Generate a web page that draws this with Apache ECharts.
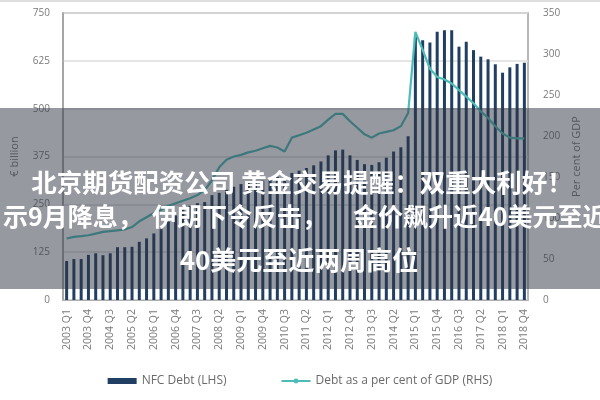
<!DOCTYPE html>
<html>
<head>
<meta charset="utf-8">
<script src="https://cdn.jsdelivr.net/npm/echarts@6/dist/echarts.min.js"></script>
<style>
html,body{margin:0;padding:0;background:#fff;}
#c{width:600px;height:400px;}
</style>
</head>
<body>
<div id="c"></div>
<script>
const categories = [
 '2003 Q1','2003 Q2','2003 Q3','2003 Q4','2004 Q1','2004 Q2','2004 Q3','2004 Q4',
 '2005 Q1','2005 Q2','2005 Q3','2005 Q4','2006 Q1','2006 Q2','2006 Q3','2006 Q4',
 '2007 Q1','2007 Q2','2007 Q3','2007 Q4','2008 Q1','2008 Q2','2008 Q3','2008 Q4',
 '2009 Q1','2009 Q2','2009 Q3','2009 Q4','2010 Q1','2010 Q2','2010 Q3','2010 Q4',
 '2011 Q1','2011 Q2','2011 Q3','2011 Q4','2012 Q1','2012 Q2','2012 Q3','2012 Q4',
 '2013 Q1','2013 Q2','2013 Q3','2013 Q4','2014 Q1','2014 Q2','2014 Q3','2014 Q4',
 '2015 Q1','2015 Q2','2015 Q3','2015 Q4','2016 Q1','2016 Q2','2016 Q3','2016 Q4',
 '2017 Q1','2017 Q2','2017 Q3','2017 Q4','2018 Q1','2018 Q2','2018 Q3','2018 Q4'
];
const nfcDebt = [
 102,107,107,118,122,117,122,138,138,139,152,161,174,185,205,221,240,246,253,256,
 274,280,288,296,303,310,305,312,318,322,326,332,338,345,352,
 362,378,391,393,378,366,355,353,360,372,388,399,428,
 690,679,673,701,705,705,662,675,653,636,629,616,594,608,617,620
];
const debtPctGdp = [
 75,77,78,79,81,83,84,85,86,89,96,101,106,110,115,118,121,124,128,134,
 146,162,171,175,177,180,182,185,188,186,181,198,201,204,208,
 212,220,227,227,218,210,202,198,203,205,207,212,228,
 327,305,282,272,269,264,256,248,240,230,222,212,203,198,197,197
];
const leftTicks = {min:0, max:750, interval:125};
const rightTicks = {min:0, max:350, interval:50};
const seriesNames = ['NFC Debt (LHS)', 'Debt as a per cent of GDP (RHS)'];
const axisNames = ['€ billion', 'Per cent of GDP'];
const overlayLine1 = '北京期货配资公司 黄金交易提醒：双重大利好！';
const overlayLine2Parts = ['示9月降息，', '伊朗下令反击，', '金价飙升近40美元至近两周高位'];
const overlayLine3 = '40美元至近两周高位';

const font = 'Open Sans';
const cjk = 'Noto Sans CJK SC';
function overlayText(text, x, y, align, size) {
  return {type:'text', z:101, x:x, y:y,
    style:{text:text, fill:'#fff', fontSize:size, fontWeight:'bold', fontFamily:cjk, align:align, verticalAlign:'middle'}};
}
const chart = echarts.init(document.getElementById('c'), null, {renderer:'canvas'});
chart.setOption({
  animation:false,
  backgroundColor:'#fff',
  grid:{left:63, right:72, top:13, bottom:100, show:true, borderColor:'#a0a0a0', borderWidth:1.5, backgroundColor:'transparent'},
  legend:{
    bottom:8, left:'center', itemGap:54, itemWidth:29, itemHeight:6,
    textStyle:{fontFamily:font, fontSize:12, color:'#6a6a6a'},
    data:[{name:seriesNames[0], icon:'rect'}, {name:seriesNames[1]}]
  },
  xAxis:{
    type:'category', data:categories, boundaryGap:true,
    axisLine:{show:true, lineStyle:{color:'#b0b0b0'}},
    axisTick:{show:false},
    axisLabel:{rotate:90, interval:2, margin:9, fontFamily:font, fontSize:10.5, color:'#7a7a7a'}
  },
  yAxis:[
    {type:'value', min:leftTicks.min, max:leftTicks.max, interval:leftTicks.interval,
     name:axisNames[0], nameLocation:'middle', nameGap:43, nameRotate:90,
     nameTextStyle:{fontFamily:font, fontSize:11, color:'#7a7a7a'},
     axisLine:{show:true, lineStyle:{color:'#a0a0a0', width:1.5}},
     axisTick:{show:false},
     axisLabel:{margin:13, fontFamily:font, fontSize:10, color:'#7a7a7a'},
     splitLine:{show:true, lineStyle:{color:'#dcdcdc', width:1.5}}},
    {type:'value', min:rightTicks.min, max:rightTicks.max, interval:rightTicks.interval,
     name:axisNames[1], nameLocation:'middle', nameGap:43, nameRotate:90,
     nameTextStyle:{fontFamily:font, fontSize:11, color:'#7a7a7a'},
     axisLine:{show:false}, axisTick:{show:false},
     axisLabel:{margin:15, fontFamily:font, fontSize:10, color:'#7a7a7a'},
     splitLine:{show:false}}
  ],
  series:[
    {name:seriesNames[0], type:'bar', data:nfcDebt, yAxisIndex:0, barWidth:3,
     itemStyle:{color:'#213f62'}},
    {name:seriesNames[1], type:'line', data:debtPctGdp, yAxisIndex:1, symbol:'none',
     lineStyle:{color:'#4dbdb7', width:2.2}, itemStyle:{color:'#4dbdb7'}, z:3}
  ],
  graphic:[
    {type:'rect', z:100, shape:{x:0, y:0, width:600, height:2}, style:{fill:'#dedede'}},
    {type:'rect', z:100, shape:{x:0, y:108, width:600, height:181}, style:{fill:'rgba(45,52,66,0.5)'}},
    overlayText(overlayLine1, 302, 182, 'center', 25.5),
    overlayText(overlayLine2Parts[0], 3, 216, 'left', 25),
    overlayText(overlayLine2Parts[1], 152, 216, 'left', 25),
    overlayText(overlayLine2Parts[2], 353, 216, 'left', 25),
    overlayText(overlayLine3, 299, 260, 'center', 26)
  ]
});
</script>
</body>
</html>
